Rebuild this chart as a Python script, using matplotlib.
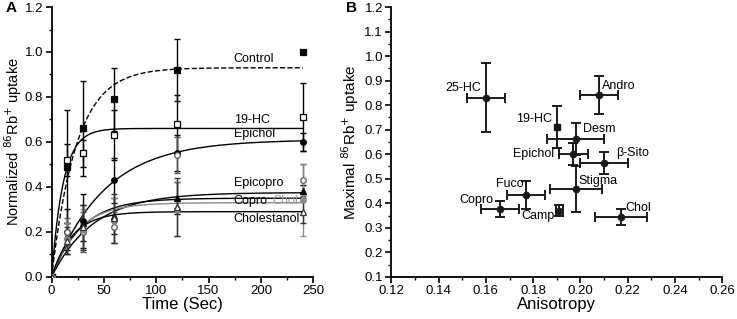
import numpy as np
import matplotlib.pyplot as plt
from matplotlib.ticker import MultipleLocator

plt.rcParams['font.family'] = ['Liberation Sans', 'DejaVu Sans']

# Panel A: uptake time course
time = [0, 15, 30, 60, 120, 240]
series_names = ["Control", "19-HC", "Epichol", "Epicopro", "Copro", "Chol", "Cholestanol"]
uptake = {
    "Control": [0.0, 0.49, 0.66, 0.79, 0.92, 1.00],
    "19-HC": [0.0, 0.52, 0.55, 0.63, 0.68, 0.71],
    "Epichol": [0.0, 0.20, 0.25, 0.43, 0.55, 0.60],
    "Epicopro": [0.0, 0.18, 0.24, 0.27, 0.35, 0.38],
    "Copro": [0.0, 0.20, 0.20, 0.22, 0.54, 0.43],
    "Chol": [0.0, 0.17, 0.21, 0.25, 0.30, 0.34],
    "Cholestanol": [0.0, 0.16, 0.22, 0.26, 0.31, 0.29],
}
uptake_err = {
    "Control": [0.0, 0.25, 0.21, 0.14, 0.14, 0.0],
    "19-HC": [0.0, 0.07, 0.06, 0.11, 0.13, 0.15],
    "Epichol": [0.0, 0.10, 0.12, 0.10, 0.08, 0.04],
    "Epicopro": [0.0, 0.06, 0.08, 0.08, 0.07, 0.03],
    "Copro": [0.0, 0.06, 0.09, 0.07, 0.08, 0.07],
    "Chol": [0.0, 0.07, 0.09, 0.10, 0.12, 0.16],
    "Cholestanol": [0.0, 0.06, 0.10, 0.11, 0.13, 0.05],
}
# single exponential fits: plateau * (1 - exp(-rate * t))
fit_plateau = [0.93, 0.66, 0.61, 0.375, 0.35, 0.33, 0.29]
fit_rate = [0.042, 0.09, 0.02, 0.025, 0.035, 0.04, 0.05]
label_y = [0.943, 0.67, 0.607, 0.39, 0.31, 0.31, 0.23]

# Panel B: maximal uptake vs anisotropy
sterols = ["25-HC", "Andro", "19-HC", "Desm", "Epichol", "β-Sito", "Stigma", "Fuco", "Copro", "Camp", "Chol"]
anisotropy = [0.160, 0.208, 0.190, 0.198, 0.197, 0.210, 0.198, 0.177, 0.166, 0.191, 0.217]
anisotropy_err = [0.008, 0.008, 0.0, 0.012, 0.006, 0.010, 0.011, 0.008, 0.008, 0.0015, 0.011]
max_uptake = [0.83, 0.84, 0.71, 0.662, 0.60, 0.564, 0.458, 0.434, 0.377, 0.369, 0.344]
max_uptake_err = [0.14, 0.078, 0.085, 0.065, 0.045, 0.045, 0.093, 0.058, 0.033, 0.022, 0.033]

fig = plt.figure(figsize=(7.37, 3.19), dpi=100)
ax1 = fig.add_axes([0.07, 0.132, 0.355, 0.846])
ax2 = fig.add_axes([0.531, 0.132, 0.449, 0.846])

styles = {
    "Control": dict(marker="s", mfc="black", mec="black", color="black"),
    "19-HC": dict(marker="s", mfc="white", mec="black", color="black"),
    "Epichol": dict(marker="o", mfc="black", mec="black", color="black"),
    "Epicopro": dict(marker="^", mfc="black", mec="black", color="black"),
    "Copro": dict(marker="o", mfc="white", mec="#555555", color="#555555"),
    "Chol": dict(marker="o", mfc="#8a8a8a", mec="#8a8a8a", color="#8a8a8a"),
    "Cholestanol": dict(marker="^", mfc="white", mec="#333333", color="#333333"),
}

t_fit = np.linspace(0, 240, 300)
for i, name in enumerate(series_names):
    st = styles[name]
    ax1.errorbar(time, uptake[name], yerr=uptake_err[name], fmt="none",
                 ecolor=st["color"], elinewidth=1.0, capsize=2.5, capthick=1.0, zorder=2)
    ax1.plot(time, uptake[name], linestyle="none", marker=st["marker"], markersize=4,
             mfc=st["mfc"], mec=st["mec"], mew=0.9, zorder=3)
    fit = fit_plateau[i] * (1 - np.exp(-fit_rate[i] * t_fit))
    ls = "--" if name == "Control" else "-"
    lc = "#8a8a8a" if name == "Chol" else "black"
    ax1.plot(t_fit, fit, ls=ls, color=lc, lw=1.0, zorder=1)

for i, name in enumerate(series_names):
    if name == "Chol":
        ax1.text(211, label_y[i], name, fontsize=9, ha="left", va="bottom", color="#9a9a9a", zorder=4)
    else:
        ax1.text(174, label_y[i], name, fontsize=9, ha="left", va="bottom", color="black", zorder=4)

ax1.set_xlim(0, 250)
ax1.set_ylim(0, 1.2)
ax1.xaxis.set_major_locator(MultipleLocator(50))
ax1.xaxis.set_minor_locator(MultipleLocator(25))
ax1.yaxis.set_major_locator(MultipleLocator(0.2))
ax1.yaxis.set_minor_locator(MultipleLocator(0.1))
ax1.yaxis.set_major_formatter(plt.FormatStrFormatter("%.1f"))
ax1.set_xlabel("Time (Sec)", fontsize=12, labelpad=0)
ax1.set_ylabel("Normalized $^{86}$Rb$^{+}$ uptake", fontsize=10.5)
ax1.yaxis.set_label_coords(-0.105, 0.5)
fig.text(0.008, 0.975, "A", fontsize=11, fontweight="bold", va="center", ha="left")

for i, name in enumerate(sterols):
    mk = "s" if name == "19-HC" else "o"
    ax2.errorbar(anisotropy[i], max_uptake[i],
                 xerr=anisotropy_err[i] if anisotropy_err[i] > 0 else None,
                 yerr=max_uptake_err[i], fmt=mk, color="#1a1a1a", markersize=4.5,
                 elinewidth=1.4, capsize=3.5, capthick=1.4)

label_pos = {
    "25-HC": (0.158, 0.87, "right"), "Andro": (0.209, 0.878, "left"),
    "19-HC": (0.188, 0.744, "right"), "Desm": (0.201, 0.703, "left"),
    "Epichol": (0.189, 0.601, "right"), "β-Sito": (0.215, 0.605, "left"),
    "Stigma": (0.199, 0.491, "left"), "Fuco": (0.176, 0.479, "right"),
    "Copro": (0.163, 0.414, "right"), "Camp": (0.189, 0.348, "right"),
    "Chol": (0.219, 0.381, "left"),
}
for name in sterols:
    x, y, ha = label_pos[name]
    ax2.text(x, y, name, fontsize=9, ha=ha, va="center")

ax2.set_xlim(0.12, 0.26)
ax2.set_ylim(0.1, 1.2)
ax2.xaxis.set_major_locator(MultipleLocator(0.02))
ax2.xaxis.set_minor_locator(MultipleLocator(0.01))
ax2.yaxis.set_major_locator(MultipleLocator(0.1))
ax2.yaxis.set_minor_locator(MultipleLocator(0.05))
ax2.xaxis.set_major_formatter(plt.FormatStrFormatter("%.2f"))
ax2.yaxis.set_major_formatter(plt.FormatStrFormatter("%.1f"))
ax2.set_xlabel("Anisotropy", fontsize=12, labelpad=0)
ax2.set_ylabel("Maximal $^{86}$Rb$^{+}$ uptake", fontsize=11)
ax2.yaxis.set_label_coords(-0.093, 0.5)
fig.text(0.470, 0.975, "B", fontsize=11, fontweight="bold", va="center", ha="left")

for ax in (ax1, ax2):
    for side in ("top", "right"):
        ax.spines[side].set_visible(False)
    ax.spines["left"].set_linewidth(1.3)
    ax.spines["bottom"].set_linewidth(1.3)
    ax.tick_params(which="major", direction="out", length=4, width=1.2, labelsize=9.5, pad=2)
    ax.tick_params(which="minor", direction="out", length=2.5, width=1.0)

fig.savefig("out.png", dpi=100)
